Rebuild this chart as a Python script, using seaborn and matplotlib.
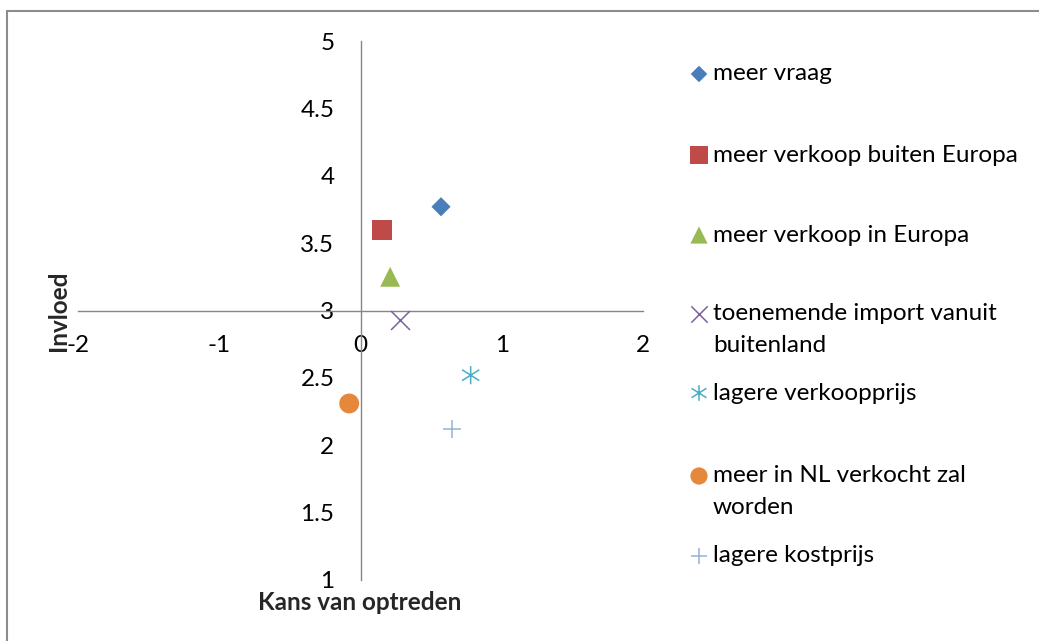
import matplotlib
matplotlib.use("Agg")
import matplotlib.pyplot as plt
from matplotlib.path import Path
from matplotlib.lines import Line2D
import seaborn as sns

# Risk factors: probability of occurrence (x) versus impact (y)
labels = [
    "meer vraag",
    "meer verkoop buiten Europa",
    "meer verkoop in Europa",
    "toenemende import vanuit\nbuitenland",
    "lagere verkoopprijs",
    "meer in NL verkocht zal\nworden",
    "lagere kostprijs",
]
kans = [0.57, 0.155, 0.21, 0.28, 0.78, -0.08, 0.65]
invloed = [3.77, 3.60, 3.25, 2.93, 2.52, 2.31, 2.12]

x_ticks = [-2, -1, 0, 1, 2]
x_tick_labels = ["-2", "-1", "0", "1", "2"]
y_ticks = [1, 1.5, 2, 2.5, 3, 3.5, 4, 4.5, 5]
y_tick_labels = ["1", "1.5", "2", "2.5", "3", "3.5", "4", "4.5", "5"]

x_title = "Kans van optreden"
y_title = "Invloed"

# asterisk marker: vertical stroke plus two diagonals
star = Path(
    [(0, -1), (0, 1), (-0.95, -0.6), (0.95, 0.6), (-0.95, 0.6), (0.95, -0.6)],
    [Path.MOVETO, Path.LINETO] * 3,
)

styles = [
    dict(marker="D", color="#4A7EBB", s=95, filled=True),
    dict(marker="s", color="#BE4B48", s=205, filled=True),
    dict(marker="^", color="#98B954", s=205, filled=True),
    dict(marker="x", color="#7D60A0", s=185, filled=False),
    dict(marker=star, color="#4BACC6", s=170, filled=False),
    dict(marker="o", color="#E5883C", s=205, filled=True),
    dict(marker="+", color="#95B3D7", s=185, filled=False),
]

sns.set_theme(style="white")
plt.rcParams["font.family"] = ["Lato", "DejaVu Sans"]
FS = 17.5
AXIS_GREY = "#868686"

W, H = 1039, 641
fig = plt.figure(figsize=(W / 100, H / 100), dpi=100)
ax = fig.add_axes([78 / W, 1 - 580 / H, (643 - 78) / W, (580 - 41) / H])


def draw_point(target, x, y, st, scale=1.0):
    kw = dict(marker=st["marker"], s=st["s"] * scale, ax=target,
              legend=False, zorder=4, clip_on=False)
    if st["filled"]:
        kw.update(color=st["color"], edgecolor="none", linewidth=0)
    elif isinstance(st["marker"], Path):
        kw.update(facecolor="none", edgecolor=st["color"], linewidth=1.1)
    else:
        kw.update(color=st["color"], linewidth=1.1)
    sns.scatterplot(x=[x], y=[y], **kw)


for xi, yi, st in zip(kans, invloed, styles):
    draw_point(ax, xi, yi, st)

ax.set_xlim(-2, 2)
ax.set_ylim(1, 5)
ax.set_xticks(x_ticks, x_tick_labels)
ax.set_yticks(y_ticks, y_tick_labels)
ax.set_xlabel("")
ax.set_ylabel("")

# axes cross at (0, 3)
ax.spines["left"].set_position(("data", 0))
ax.spines["bottom"].set_position(("data", 3))
for side in ("right", "top"):
    ax.spines[side].set_visible(False)
for side in ("left", "bottom"):
    ax.spines[side].set_color(AXIS_GREY)
    ax.spines[side].set_linewidth(1.0)

ax.tick_params(axis="both", direction="out", length=5.8, width=1.0,
               color=AXIS_GREY, labelsize=FS, labelcolor="black")
ax.tick_params(axis="y", pad=13)
ax.tick_params(axis="x", pad=12)
ax.set_facecolor("none")

fig.text(59 / W, 1 - 311 / H, y_title, rotation=90, ha="center", va="center",
         fontsize=FS, fontweight="bold")
fig.text(360 / W, 1 - 602 / H, x_title, ha="center", va="center",
         fontsize=FS, fontweight="bold")

# legend drawn on a full-figure overlay in pixel units
lax = fig.add_axes([0, 0, 1, 1], zorder=5)
lax.set_xlim(0, W)
lax.set_ylim(H, 0)
lax.axis("off")
legend_rows = [74, 155, 235, 314, 393, 476, 556]
line_step = 32
for label, st, row in zip(labels, styles, legend_rows):
    draw_point(lax, 699, row, st, scale=0.75)
    for j, line in enumerate(label.split("\n")):
        lax.text(713, row + j * line_step, line, ha="left", va="center",
                 fontsize=FS, color="black")

# chart frame: top and left edges run to the canvas border
frame_kw = dict(transform=fig.transFigure, color="#8C8C8C", linewidth=1.5)
fig.lines.append(Line2D([7 / W, 1], [1 - 11 / H, 1 - 11 / H], **frame_kw))
fig.lines.append(Line2D([7 / W, 7 / W], [0, 1 - 11 / H], **frame_kw))

fig.savefig("out.png", dpi=100)
